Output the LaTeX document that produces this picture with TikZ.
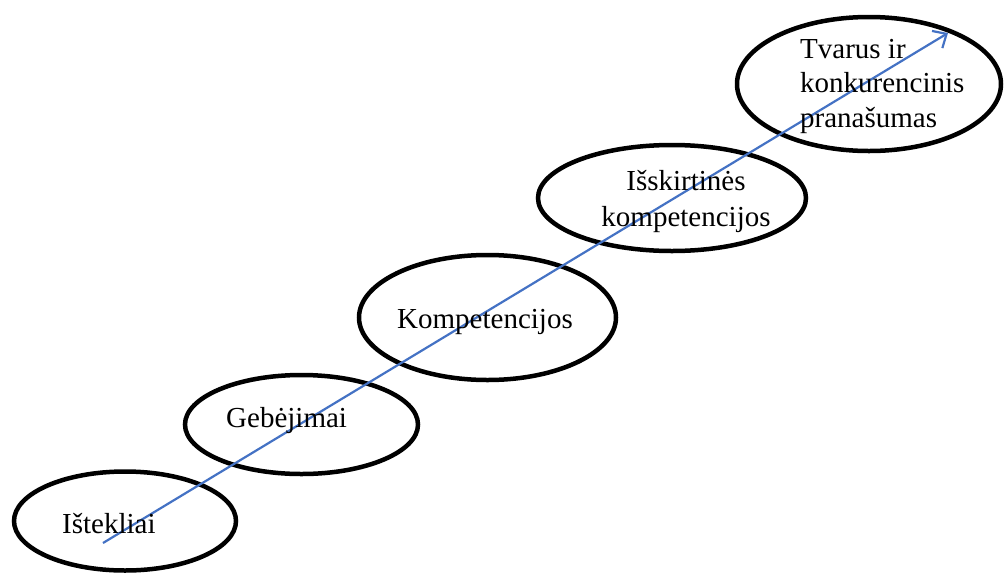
\documentclass[tikz,border=0pt]{standalone}
\usepackage{fontspec}
\setmainfont{Liberation Serif}
\usetikzlibrary{shapes.geometric,arrows.meta}
\definecolor{arrowblue}{RGB}{68,114,196}
\begin{document}
\begin{tikzpicture}[x=1pt,y=-1pt,
  stage/.style={draw=black,line width=4.5pt,ellipse,inner sep=0pt},
  label/.style={font=\fontsize{29}{35}\selectfont,inner sep=0pt},
  growth/.style={draw=arrowblue,line width=2.2pt,-{Straight Barb[length=11pt,width=20pt,line width=2.2pt]}}]
  \useasboundingbox (0,0) rectangle (1005,574);
  % stages, from resources up to advantage
  \node[stage,minimum width=222pt,minimum height=99pt] (e1) at (125,521) {};
  \node[stage,minimum width=233pt,minimum height=99pt] (e2) at (301.5,424.5) {};
  \node[stage,minimum width=257pt,minimum height=125pt] (e3) at (487.5,317.5) {};
  \node[stage,minimum width=268pt,minimum height=106pt] (e4) at (672,198) {};
  \node[stage,minimum width=264pt,minimum height=134pt] (e5) at (869,84) {};
  % rising arrow
  \coordinate (start) at (103,543);
  \coordinate (finish) at (948,33);
  \draw[growth] (start) -- (finish);
  % texts (base anchor of a multi-line node sits on its last line)
  \node[label,anchor=base west] (t1) at (62,533) {Ištekliai};
  \node[label,anchor=base west] (t2) at (226,427) {Gebėjimai};
  \node[label,anchor=base west] (t3) at (397,328) {Kompetencijos};
  \node[label,anchor=base,align=center,font=\fontsize{29}{36}\selectfont] (t4) at (686,226) {Išskirtinės\\kompetencijos};
  \node[label,anchor=base west,align=left,font=\fontsize{29}{34.5}\selectfont] (t5) at (800,127) {Tvarus ir\\konkurencinis\\pranašumas};
\end{tikzpicture}
\end{document}
